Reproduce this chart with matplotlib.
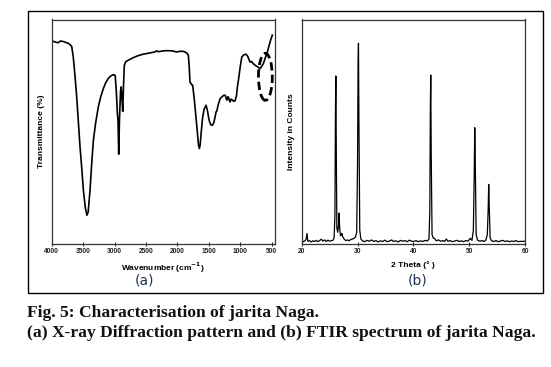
import numpy as np
import matplotlib
matplotlib.use("Agg")
import matplotlib.pyplot as plt
import matplotlib.patches as patches

# FTIR spectrum (panel a): wavenumber (cm-1) vs transmittance (arbitrary %)
ftir_wn = [4000, 3950, 3900, 3860, 3820, 3780, 3740, 3710, 3682, 3657, 3630,
           3602, 3575, 3549, 3520, 3496, 3465, 3440, 3420, 3390, 3365, 3337,
           3300, 3258, 3220, 3178, 3140, 3099, 3060, 3019, 2990, 2972, 2955,
           2945, 2934, 2922, 2905, 2895, 2885, 2870, 2858, 2845, 2820, 2770,
           2700, 2630, 2547, 2450, 2360, 2330, 2300, 2228, 2150, 2080, 2015,
           1960, 1910, 1879, 1850, 1826, 1812, 1800, 1785, 1770, 1757, 1730,
           1705, 1680, 1665, 1650, 1638, 1620, 1600, 1575, 1543, 1520, 1495,
           1470, 1443, 1420, 1400, 1385, 1374, 1350, 1320, 1290, 1260, 1241,
           1225, 1214, 1200, 1188, 1175, 1161, 1145, 1124, 1105, 1082, 1060,
           1045, 1029, 1000, 975, 940, 907, 880, 860, 843, 820, 800, 764, 720,
           684, 660, 631, 600, 568, 540, 514, 490]
ftir_t = [90.5, 90.0, 89.6, 90.4, 90.2, 89.8, 89.4, 88.8, 88.0, 83.3, 75.0,
          65.4, 54.0, 43.0, 33.0, 23.8, 16.0, 12.6, 14.0, 23.8, 35.0, 46.0,
          54.0, 61.0, 65.5, 69.2, 71.8, 73.7, 74.8, 75.4, 75.0, 68.0, 58.0,
          55.0, 39.9, 55.0, 68.0, 69.9, 66.0, 59.0, 70.0, 79.5, 81.2, 82.0,
          83.0, 83.8, 84.5, 85.0, 85.5, 86.0, 85.6, 86.0, 86.1, 86.0, 85.5,
          85.8, 85.8, 85.5, 85.0, 84.0, 79.0, 72.0, 71.5, 70.8, 70.7, 64.0,
          56.5, 49.0, 44.0, 42.4, 44.0, 50.0, 56.0, 60.0, 61.7, 59.0, 55.0,
          53.0, 52.8, 54.0, 56.5, 58.8, 59.0, 62.0, 64.7, 65.5, 66.2, 66.2,
          65.0, 64.0, 65.4, 65.4, 64.0, 63.2, 64.5, 64.0, 63.5, 63.7, 66.0,
          70.0, 72.9, 79.0, 83.3, 84.3, 84.5, 83.5, 82.0, 81.0, 81.3, 80.5,
          79.6, 78.8, 78.1, 79.0, 80.4, 83.0, 85.5, 88.5, 91.0, 93.0]

# XRD pattern (panel b): 2 theta (deg) vs intensity (arbitrary)
xrd_theta = [20.0, 20.3, 20.6, 20.8, 20.95, 21.1, 21.4, 21.7, 22.0, 22.3,
             22.6, 22.9, 23.2, 23.5, 23.8, 24.1, 24.4, 24.7, 25.0, 25.3,
             25.6, 25.8, 25.95, 26.05, 26.12, 26.2, 26.3, 26.45, 26.6, 26.7,
             26.8, 26.95, 27.1, 27.2, 27.35, 27.6, 27.9, 28.2, 28.5, 28.8,
             29.1, 29.4, 29.65, 29.85, 30.0, 30.1, 30.17, 30.25, 30.4, 30.6,
             30.9, 31.3, 31.7, 32.1, 32.5, 32.9, 33.3, 33.7, 34.1, 34.5,
             34.9, 35.3, 35.7, 36.1, 36.5, 36.9, 37.3, 37.7, 38.1, 38.5,
             38.9, 39.3, 39.7, 40.1, 40.5, 40.9, 41.3, 41.7, 42.1, 42.5,
             42.8, 42.95, 43.05, 43.12, 43.2, 43.35, 43.55, 43.8, 44.1, 44.5,
             44.9, 45.3, 45.6, 45.9, 46.2, 46.6, 47.0, 47.4, 47.8, 48.2,
             48.6, 49.0, 49.4, 49.8, 50.2, 50.5, 50.75, 50.9, 51.0, 51.1,
             51.25, 51.5, 51.9, 52.3, 52.7, 53.0, 53.25, 53.4, 53.5, 53.6,
             53.75, 54.0, 54.4, 54.8, 55.2, 55.6, 56.0, 56.4, 56.8, 57.2,
             57.6, 58.0, 58.4, 58.8, 59.2, 59.6, 60.0]
xrd_int = [1.5, 0.8, 1.2, 2.0, 4.5, 1.0, 1.3, 0.7, 1.2, 0.9,
           1.4, 0.8, 1.3, 1.9, 1.1, 1.6, 0.9, 1.5, 1.0, 1.3,
           1.4, 2.5, 12.0, 60.0, 74.8, 40.0, 7.0, 5.0, 8.0, 13.6,
           7.0, 3.5, 3.8, 4.5, 3.0, 2.0, 1.3, 1.6, 1.2, 1.8,
           2.0, 2.4, 3.0, 5.0, 35.0, 80.0, 89.4, 55.0, 6.0, 2.0,
           1.2, 0.8, 1.4, 1.0, 1.6, 0.9, 1.3, 0.7, 1.2, 0.9,
           1.5, 0.8, 1.1, 1.6, 0.9, 1.2, 0.7, 1.4, 1.0, 1.3,
           0.8, 1.5, 1.0, 0.9, 1.3, 0.8, 1.2, 0.9, 1.4, 1.1,
           2.0, 15.0, 62.0, 75.2, 40.0, 4.0, 2.5, 2.2, 1.2, 1.6,
           1.0, 1.3, 0.9, 2.0, 1.0, 1.3, 0.8, 1.1, 1.4, 0.9,
           1.2, 0.8, 1.3, 1.1, 2.3, 1.4, 6.0, 30.0, 51.7, 35.0,
           4.0, 1.5, 1.0, 1.3, 0.9, 1.6, 4.0, 15.0, 26.4, 16.0,
           2.5, 1.2, 0.9, 1.3, 0.8, 1.1, 1.4, 0.9, 1.2, 0.8,
           1.1, 0.9, 1.3, 0.8, 1.0, 0.9, 1.1]

ftir_ticks = [4000, 3500, 3000, 2500, 2000, 1500, 1000, 500]
xrd_ticks = [20, 30, 40, 50, 60]

W, H = 551, 367
fig = plt.figure(figsize=(W / 100, H / 100), dpi=100)
fig.patch.set_facecolor("white")


def px_axes(left, top, right, bottom):
    return fig.add_axes([left / W, 1 - bottom / H, (right - left) / W, (bottom - top) / H])


def style_axes(ax):
    ax.set_yticks([])
    for s in ax.spines.values():
        s.set_color("#333333")
        s.set_linewidth(0.9)
    ax.tick_params(axis="x", which="both", top=False, bottom=True,
                   direction="inout", length=3, width=0.8, pad=2,
                   labelsize=4.8, colors="#222222")
    ax.minorticks_off()
    for lab in ax.get_xticklabels():
        lab.set_fontweight("bold")
        lab.set_fontfamily("Liberation Sans")


# panel (a): FTIR
ax1 = px_axes(51.7, 19.5, 274.5, 243.5)
ax1.plot(ftir_wn, ftir_t, color="black", linewidth=1.2)
ax1.set_xlim(4000, 455)
ax1.set_ylim(0, 100)
ax1.set_xticks(ftir_ticks)
style_axes(ax1)
ax1.set_ylabel("Transmittance (%)", fontsize=6, fontweight="bold",
               family="Liberation Sans", labelpad=5)
ax1.set_xlabel("Wavenumber (cm$^{\\mathbf{-1}}$)", fontsize=6, fontweight="bold",
               family="Liberation Sans", labelpad=4)
ax1.add_patch(patches.Ellipse((600, 74.4), 220, 21, fill=False, edgecolor="black",
                              linewidth=2, linestyle=(0, (3, 1.5))))

# panel (b): XRD
ax2 = px_axes(301.7, 19.5, 525, 243.5)
ax2.plot(xrd_theta, xrd_int, color="black", linewidth=0.9)
ax2.set_xlim(20, 60)
ax2.set_ylim(0, 100)
ax2.set_xticks(xrd_ticks)
style_axes(ax2)
ax2.set_ylabel("Intensity in Counts", fontsize=6, fontweight="bold",
               family="Liberation Sans", labelpad=5)
ax2.set_xlabel("2 Theta (° )", fontsize=6, fontweight="bold",
               family="Liberation Sans", labelpad=4)

# panel letters
fig.text(145 / W, 1 - 281 / H, "(a)", fontsize=10, color="#223355",
         ha="center", va="center")
fig.text(418 / W, 1 - 281 / H, "(b)", fontsize=10, color="#223355",
         ha="center", va="center")

# outer frame
fig.add_artist(patches.Rectangle((28 / W, 1 - 293 / H), (543 - 28) / W, (293 - 11) / H,
                                 transform=fig.transFigure, fill=False,
                                 edgecolor="black", linewidth=1))

# caption
fig.text(27 / W, 1 - 313 / H, "Fig. 5: Characterisation of jarita Naga.",
         fontsize=12.6, fontweight="bold", family="Liberation Serif",
         ha="left", va="center", color="#111111")
fig.text(27 / W, 1 - 333 / H,
         "(a) X-ray Diffraction pattern and (b) FTIR spectrum of jarita Naga.",
         fontsize=12.6, fontweight="bold", family="Liberation Serif",
         ha="left", va="center", color="#111111")

fig.savefig("out.png", dpi=100)
